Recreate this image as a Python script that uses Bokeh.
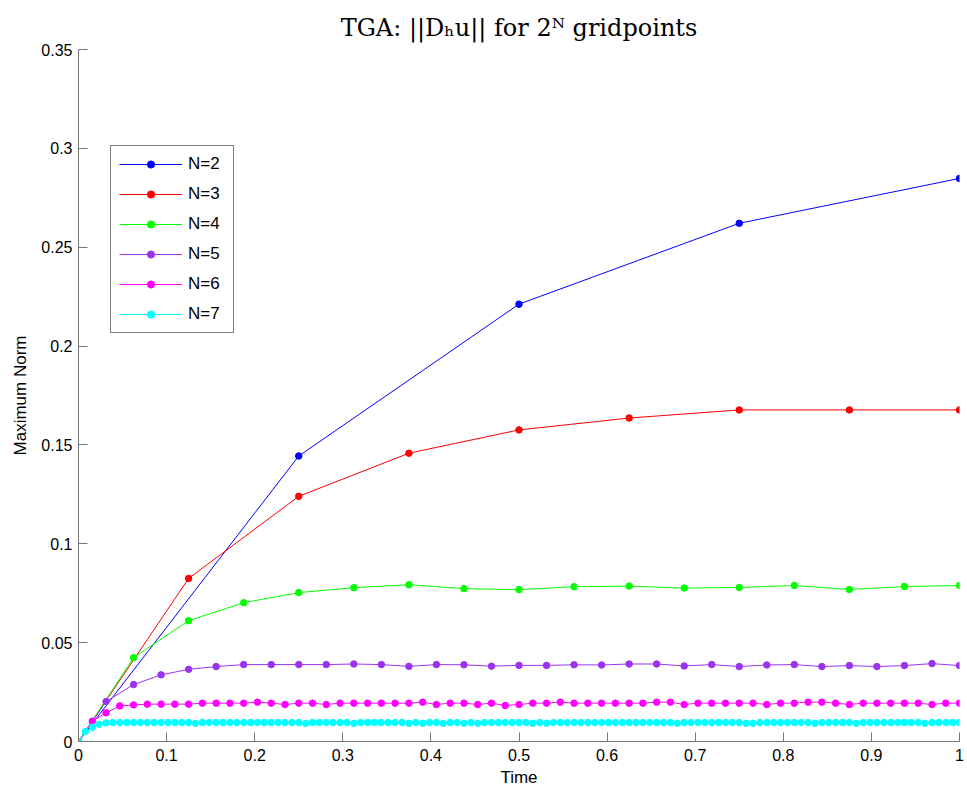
import numpy as np
from bokeh.plotting import figure
from bokeh.models import Range1d, FixedTicker, Legend, LegendItem
from bokeh.embed import file_html
from bokeh.resources import INLINE

# ---------------- data ----------------
labels = ["N=2", "N=3", "N=4", "N=5", "N=6", "N=7"]
colors = ["#0000ff", "#ff0000", "#00ff00", "#9a32f0", "#ff00ff", "#00ffff"]

n2 = [0, 0.1444, 0.2212, 0.2621, 0.2848]
n3 = [0, 0.0825, 0.1240, 0.1458, 0.1576, 0.1636, 0.1677, 0.1677, 0.1677]
n4 = [0, 0.0424, 0.0611, 0.0702, 0.0753, 0.0778, 0.0793, 0.0773, 0.0768,
      0.0783, 0.0786, 0.0776, 0.0779, 0.0789, 0.0769, 0.0784, 0.0789]
n5 = [0, 0.0202, 0.0288, 0.0337, 0.0365, 0.0379, 0.0389, 0.0389, 0.0389,
      0.0389, 0.0392, 0.0389, 0.0380, 0.0389, 0.0388, 0.0381, 0.0385,
      0.0385, 0.0388, 0.0387, 0.0392, 0.0392, 0.0382, 0.0389, 0.0379,
      0.0387, 0.0389, 0.0379, 0.0384, 0.0379, 0.0384, 0.0394, 0.0384]
n6 = [0, 0.0103, 0.0145, 0.0180, 0.0185, 0.0189, 0.0189, 0.0189,
      0.0189, 0.0194, 0.0194, 0.0194, 0.0194, 0.0199, 0.0194, 0.0187,
      0.0194, 0.0194, 0.0187, 0.0194, 0.0194, 0.0194, 0.0194, 0.0194,
      0.0194, 0.0199, 0.0187, 0.0194, 0.0194, 0.0187, 0.0194, 0.0182,
      0.0187, 0.0194, 0.0194, 0.0199, 0.0194, 0.0194, 0.0194, 0.0194,
      0.0194, 0.0194, 0.0199, 0.0199, 0.0187, 0.0194, 0.0194, 0.0194,
      0.0194, 0.0194, 0.0187, 0.0194, 0.0194, 0.0199, 0.0199, 0.0194,
      0.0187, 0.0194, 0.0194, 0.0194, 0.0194, 0.0194, 0.0187, 0.0194,
      0.0194]
n7 = [0, 0.0051, 0.0072, 0.0087, 0.0094, 0.0096, 0.0096, 0.0096,
      0.0096, 0.0096, 0.0096, 0.0096, 0.0096, 0.0096, 0.0096, 0.0096,
      0.0096, 0.0092, 0.0096, 0.0096, 0.0096, 0.0096, 0.0096, 0.0096,
      0.0096, 0.0096, 0.0096, 0.0096, 0.0096, 0.0096, 0.0096, 0.0096,
      0.0096, 0.0092, 0.0096, 0.0096, 0.0096, 0.0096, 0.0096, 0.0096,
      0.0092, 0.0096, 0.0096, 0.0096, 0.0096, 0.0096, 0.0096, 0.0096,
      0.0092, 0.0096, 0.0092, 0.0096, 0.0096, 0.0092, 0.0096, 0.0096,
      0.0092, 0.0096, 0.0092, 0.0096, 0.0096, 0.0096, 0.0096, 0.0096,
      0.0096, 0.0096, 0.0092, 0.0096, 0.0092, 0.0096, 0.0096, 0.0096,
      0.0096, 0.0096, 0.0096, 0.0096, 0.0096, 0.0096, 0.0096, 0.0096,
      0.0096, 0.0096, 0.0096, 0.0096, 0.0096, 0.0096, 0.0096, 0.0092,
      0.0096, 0.0096, 0.0096, 0.0096, 0.0096, 0.0096, 0.0096, 0.0096,
      0.0096, 0.0092, 0.0092, 0.0096, 0.0096, 0.0096, 0.0096, 0.0096,
      0.0096, 0.0096, 0.0096, 0.0092, 0.0096, 0.0096, 0.0096, 0.0096,
      0.0096, 0.0092, 0.0096, 0.0096, 0.0096, 0.0096, 0.0096, 0.0096,
      0.0096, 0.0096, 0.0096, 0.0092, 0.0096, 0.0096, 0.0096, 0.0096,
      0.0096]
series = [n2, n3, n4, n5, n6, n7]

x_ticks = [0, 0.1, 0.2, 0.3, 0.4, 0.5, 0.6, 0.7, 0.8, 0.9, 1]
x_tick_labels = ["0", "0.1", "0.2", "0.3", "0.4", "0.5", "0.6", "0.7", "0.8", "0.9", "1"]
y_ticks = [0, 0.05, 0.1, 0.15, 0.2, 0.25, 0.3, 0.35]
y_tick_labels = ["0", "0.05", "0.1", "0.15", "0.2", "0.25", "0.3", "0.35"]

title_text = "TGA: ||Dₕu|| for 2ᴺ gridpoints"
x_label = "Time"
y_label = "Maximum Norm"

# ---------------- figure ----------------
SANS = "Liberation Sans"
AXIS_COLOR = "#777777"

p = figure(width=967, height=793, output_backend="svg", toolbar_location=None,
           x_range=Range1d(0, 1), y_range=Range1d(0, 0.35),
           min_border_left=78, min_border_right=8, min_border_top=49,
           min_border_bottom=52, title=title_text)

p.title.text_font = "DejaVu Serif"
p.title.text_font_size = "24px"
p.title.text_font_style = "normal"
p.title.text_color = "black"
p.title.align = "center"
p.title.standoff = 16

p.outline_line_color = None
p.xgrid.visible = False
p.ygrid.visible = False
p.background_fill_color = "white"
p.border_fill_color = "white"

p.xaxis.ticker = FixedTicker(ticks=x_ticks)
p.yaxis.ticker = FixedTicker(ticks=y_ticks)
p.xaxis.major_label_overrides = {t: s for t, s in zip(x_ticks, x_tick_labels)}
p.yaxis.major_label_overrides = {t: s for t, s in zip(y_ticks, y_tick_labels)}
p.xaxis.axis_label = x_label
p.yaxis.axis_label = y_label

for ax in (p.xaxis[0], p.yaxis[0]):
    ax.axis_line_color = AXIS_COLOR
    ax.axis_line_width = 1
    ax.major_tick_line_color = AXIS_COLOR
    ax.major_tick_in = 9
    ax.major_tick_out = 0
    ax.minor_tick_line_color = None
    ax.major_label_text_font = SANS
    ax.major_label_text_font_size = "16px"
    ax.major_label_text_color = "black"
    ax.axis_label_text_font = SANS
    ax.axis_label_text_font_size = "17px"
    ax.axis_label_text_font_style = "normal"
    ax.axis_label_text_color = "black"

p.xaxis.major_label_standoff = 7
p.xaxis.axis_label_standoff = 4
p.yaxis.major_label_standoff = 6
p.yaxis.axis_label_standoff = 8

items = []
for lab, col, ys in zip(labels, colors, series):
    xs = np.linspace(0, 1, len(ys))
    lr = p.line(xs, ys, line_color=col, line_width=1)
    sr = p.scatter(xs, ys, size=6.5, fill_color=col, line_color=col, marker="circle")
    items.append(LegendItem(label=lab, renderers=[lr, sr]))

legend = Legend(items=items, location=(32, 408), orientation="vertical",
                border_line_color="black", border_line_width=1,
                background_fill_color="white", background_fill_alpha=1,
                padding=8, spacing=10, margin=0,
                label_height=18, glyph_height=18, glyph_width=63,
                label_width=37, label_standoff=6,
                label_text_font=SANS, label_text_font_size="17px",
                label_text_color="black")
p.add_layout(legend)

open("out.html", "w").write(file_html(p, INLINE))
